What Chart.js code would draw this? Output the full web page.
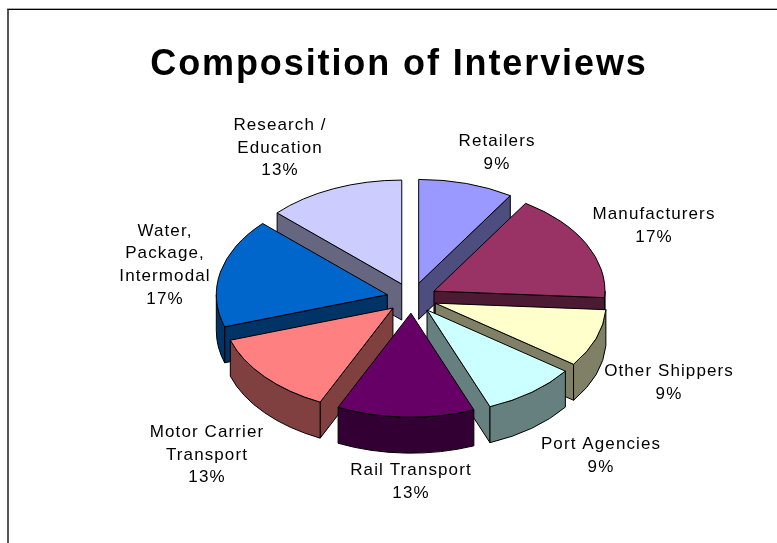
<!DOCTYPE html>
<html>
<head>
<meta charset="utf-8">
<title>Composition of Interviews</title>
<script src="https://cdn.jsdelivr.net/npm/chart.js@4/dist/chart.umd.min.js"></script>
<style>
    html, body { margin: 0; padding: 0; background: #fff; overflow: hidden; }
    #wrap { position: relative; width: 777px; height: 543px; overflow: hidden; }
    #frame { position: absolute; left: 7px; top: 9px; right: -4px; bottom: -4px;
             border-top: 1px solid #000; border-left: 2px solid #555; box-shadow: 0 -1px 0 #aaa; }
    canvas { position: absolute; left: 0; top: 0; }
</style>
</head>
<body>
<div id="wrap">
    <div id="frame"></div>
    <canvas id="pie" width="777" height="543"></canvas>
</div>
<script>
// Interview counts by sector, as percent of all interviews
const categories = [
    'Retailers', 'Manufacturers', 'Other Shippers', 'Port Agencies',
    'Rail Transport', 'Motor Carrier Transport', 'Water, Package, Intermodal', 'Research / Education'
];
const shares = [9, 17, 9, 9, 13, 13, 17, 13];
const topColors = ['#9999FF', '#993366', '#FFFFCC', '#CCFFFF', '#660066', '#FF8080', '#0066CC', '#CCCCFF'];
const wallColors = ['#4D4D80', '#4D1A33', '#808066', '#668080', '#330033', '#804040', '#003366', '#666680'];

// Label text is split by hand, the centre of each block sits at labelCentres
const labelLines = [
    ['Retailers'], ['Manufacturers'], ['Other Shippers'], ['Port Agencies'],
    ['Rail Transport'], ['Motor Carrier', 'Transport'], ['Water,', 'Package,', 'Intermodal'], ['Research /', 'Education']
];
const labelCentres = [
    [497, 153], [654, 226], [669, 383], [601, 456],
    [411, 482], [207, 455], [165, 265], [280, 148]
];

const PIE_RADIUS = 171;
const SQUASH = 0.608;      // tilt of the 3D pie
const DEPTH = 36;          // wall height
const EXPLODE = 25;        // how far each slice is pulled out
const PIE_SHIFT = 12.7;    // pie sits right of the title centre
const LABEL_LINE = 22.6;

function sliceGeometry(arc) {
    const mid = (arc.startAngle + arc.endAngle) / 2;
    return {
        x: arc.x + PIE_SHIFT + Math.cos(mid) * EXPLODE,
        y: arc.y + Math.sin(mid) * EXPLODE * SQUASH,
        rx: arc.outerRadius,
        ry: arc.outerRadius * SQUASH,
        a: arc.startAngle,
        b: arc.endAngle,
        mid: mid
    };
}

function radialWall(ctx, g, angle) {
    const px = g.x + Math.cos(angle) * g.rx;
    const py = g.y + Math.sin(angle) * g.ry;
    ctx.beginPath();
    ctx.moveTo(g.x, g.y);
    ctx.lineTo(px, py);
    ctx.lineTo(px, py + DEPTH);
    ctx.lineTo(g.x, g.y + DEPTH);
    ctx.closePath();
    ctx.fill();
    ctx.stroke();
}

function drawWalls(ctx, g, color) {
    ctx.fillStyle = color;
    ctx.strokeStyle = '#000';
    ctx.lineWidth = 1;

    // only faces turned to the viewer
    if (Math.cos(g.a) < 0) radialWall(ctx, g, g.a);
    if (Math.cos(g.b) > 0) radialWall(ctx, g, g.b);

    const from = Math.max(g.a, 0);
    const to = Math.min(g.b, Math.PI);
    if (to > from) {
        ctx.beginPath();
        ctx.ellipse(g.x, g.y, g.rx, g.ry, 0, from, to);
        ctx.ellipse(g.x, g.y + DEPTH, g.rx, g.ry, 0, to, from, true);
        ctx.closePath();
        ctx.fill();
        ctx.stroke();
    }
}

function drawTop(ctx, arc, g) {
    // the arc element draws itself, flattened into an ellipse
    ctx.save();
    ctx.translate(g.x - arc.x, g.y);
    ctx.scale(1, SQUASH);
    ctx.translate(0, -arc.y);
    arc.draw(ctx);
    ctx.restore();

    ctx.strokeStyle = '#000';
    ctx.lineWidth = 1;
    ctx.beginPath();
    ctx.moveTo(g.x, g.y);
    ctx.ellipse(g.x, g.y, g.rx, g.ry, 0, g.a, g.b);
    ctx.closePath();
    ctx.stroke();
}

const pie3d = {
    id: 'pie3d',
    beforeDraw(chart) {
        chart.ctx.letterSpacing = '1.9px';
    },
    beforeDatasetDraw(chart, args) {
        const ctx = chart.ctx;
        const arcs = chart.getDatasetMeta(args.index).data;

        // back slices first, so the front ones cover them
        const order = arcs
            .map((arc, i) => ({ arc, i, g: sliceGeometry(arc) }))
            .sort((p, q) => Math.sin(p.g.mid) - Math.sin(q.g.mid));

        order.forEach(({ arc, i, g }) => {
            drawWalls(ctx, g, wallColors[i]);
            drawTop(ctx, arc, g);
        });

        return false;
    },
    afterDatasetsDraw(chart) {
        const ctx = chart.ctx;
        ctx.save();
        ctx.letterSpacing = '1.1px';
        ctx.font = '17px "Liberation Sans", Arial, sans-serif';
        ctx.fillStyle = '#000';
        ctx.textAlign = 'center';
        ctx.textBaseline = 'middle';
        labelLines.forEach((lines, i) => {
            const rows = lines.concat(shares[i] + '%');
            const top = labelCentres[i][1] - (rows.length - 1) * LABEL_LINE / 2;
            rows.forEach((row, r) => {
                ctx.fillText(row, labelCentres[i][0], top + r * LABEL_LINE);
            });
        });
        ctx.restore();
    }
};

new Chart(document.getElementById('pie').getContext('2d'), {
    type: 'pie',
    data: {
        labels: categories,
        datasets: [{
            data: shares,
            backgroundColor: topColors,
            borderWidth: 0
        }]
    },
    options: {
        responsive: false,
        animation: false,
        radius: PIE_RADIUS,
        layout: { padding: { left: 21, top: 0, right: 0, bottom: 71 } },
        plugins: {
            legend: { display: false },
            tooltip: { enabled: false },
            title: {
                display: true,
                text: 'Composition of Interviews',
                color: '#000',
                font: { family: '"Liberation Sans", Arial, sans-serif', size: 36, weight: 'bold' },
                padding: { top: 43, bottom: 37.8 }
            }
        }
    },
    plugins: [pie3d]
});
</script>
</body>
</html>
